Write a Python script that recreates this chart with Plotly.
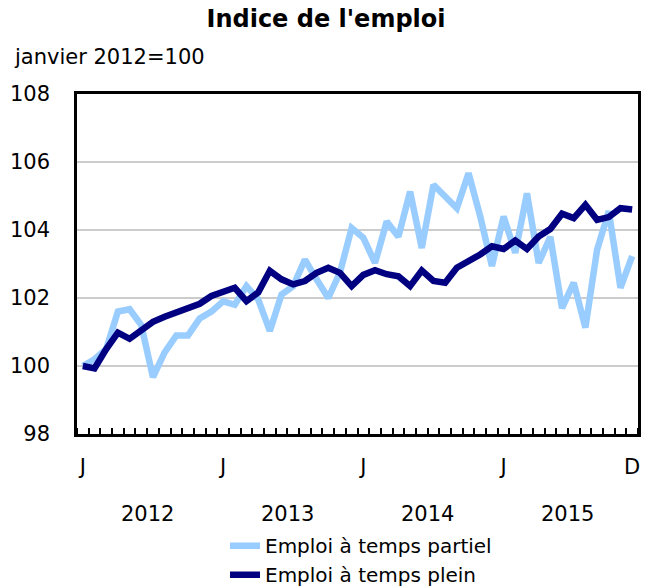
import plotly.graph_objects as go

months = [f"{y}-{m:02d}" for y in range(2012, 2016) for m in range(1, 13)]
part_time = [100.0, 100.2, 100.5, 101.6, 101.67, 101.2, 99.67, 100.4, 100.9, 100.9, 101.4, 101.6,
             101.9, 101.8, 102.35, 101.96, 101.03, 102.1, 102.35, 103.13, 102.55, 102.0, 102.75, 104.06,
             103.77, 103.03, 104.25, 103.8, 105.13, 103.47, 105.33, 104.98, 104.64, 105.67, 104.4, 102.94,
             104.4, 103.33, 105.08, 103.03, 103.8, 101.7, 102.45, 101.13, 103.42, 104.55, 102.3, 103.23]
full_time = [100.0, 99.93, 100.5, 100.98, 100.8, 101.08, 101.3, 101.45, 101.59, 101.72, 101.83, 102.06,
             102.16, 102.3, 101.91, 102.16, 102.8, 102.55, 102.4, 102.5, 102.74, 102.89, 102.74, 102.35,
             102.68, 102.82, 102.7, 102.64, 102.35, 102.81, 102.5, 102.45, 102.89, 103.08, 103.28, 103.52,
             103.44, 103.69, 103.44, 103.81, 104.03, 104.48, 104.35, 104.74, 104.3, 104.38, 104.64, 104.6]
month_tick_idx = [0, 12, 24, 36, 47]
month_tick_text = ["J", "J", "J", "J", "D"]
years = ["2012", "2013", "2014", "2015"]
y_ticks = [98, 100, 102, 104, 106, 108]

idx = list(range(len(months)))
FONT = "DejaVu Sans, Verdana, sans-serif"
FS = 21

fig = go.Figure()
fig.add_trace(go.Scatter(x=idx, y=part_time, mode="lines", name="Emploi à temps partiel",
                         line=dict(color="#99CCFF", width=6.5), customdata=months))
fig.add_trace(go.Scatter(x=idx, y=full_time, mode="lines", name="Emploi à temps plein",
                         line=dict(color="#000080", width=6.5), customdata=months))

for i, yr in enumerate(years):
    fig.add_annotation(x=i * 12 + 5.5, y=-0.235, xref="x", yref="paper", text=yr,
                       showarrow=False, yanchor="middle",
                       font=dict(size=FS, color="black", family=FONT))

fig.add_annotation(x=(12 - 77) / 561, y=1.109, xref="paper", yref="paper", text="janvier 2012=100",
                   showarrow=False, xanchor="left", yanchor="middle",
                   font=dict(size=FS, color="black", family=FONT))

fig.update_layout(
    width=652, height=586,
    margin=dict(l=77, r=14, t=94, b=152, autoexpand=False),
    paper_bgcolor="white", plot_bgcolor="white",
    font=dict(family=FONT, size=FS, color="black"),
    title=dict(text="<b>Indice de l'emploi</b>", x=0.5, xanchor="center", y=0.969, yanchor="middle",
               font=dict(size=24, family=FONT, color="black")),
    showlegend=True,
    legend=dict(x=(225 - 77) / 561, xanchor="left", y=-0.271, yanchor="top", orientation="v",
                font=dict(size=20, family=FONT), tracegroupgap=0,
                bgcolor="rgba(0,0,0,0)"),
    xaxis=dict(range=[-0.5, 47.5], tickmode="array", tickvals=month_tick_idx, ticktext=month_tick_text,
               ticks="", showgrid=False, zeroline=False, showline=True, linecolor="black", linewidth=2.5,
               mirror=True, ticklabelstandoff=12,
               minor=dict(tickmode="linear", tick0=0.5, dtick=1, ticks="inside", ticklen=6,
                          tickcolor="black", tickwidth=2, showgrid=False)),
    yaxis=dict(range=[98, 108], tickmode="array", tickvals=y_ticks, ticks="", showgrid=True,
               gridcolor="#CCCCCC", gridwidth=2, zeroline=False, showline=True, linecolor="black",
               linewidth=2.5, mirror=True, ticklabelstandoff=20),
)

fig.write_html("out.html", config={"displayModeBar": False},
               post_script="document.body.style.margin='0';")
